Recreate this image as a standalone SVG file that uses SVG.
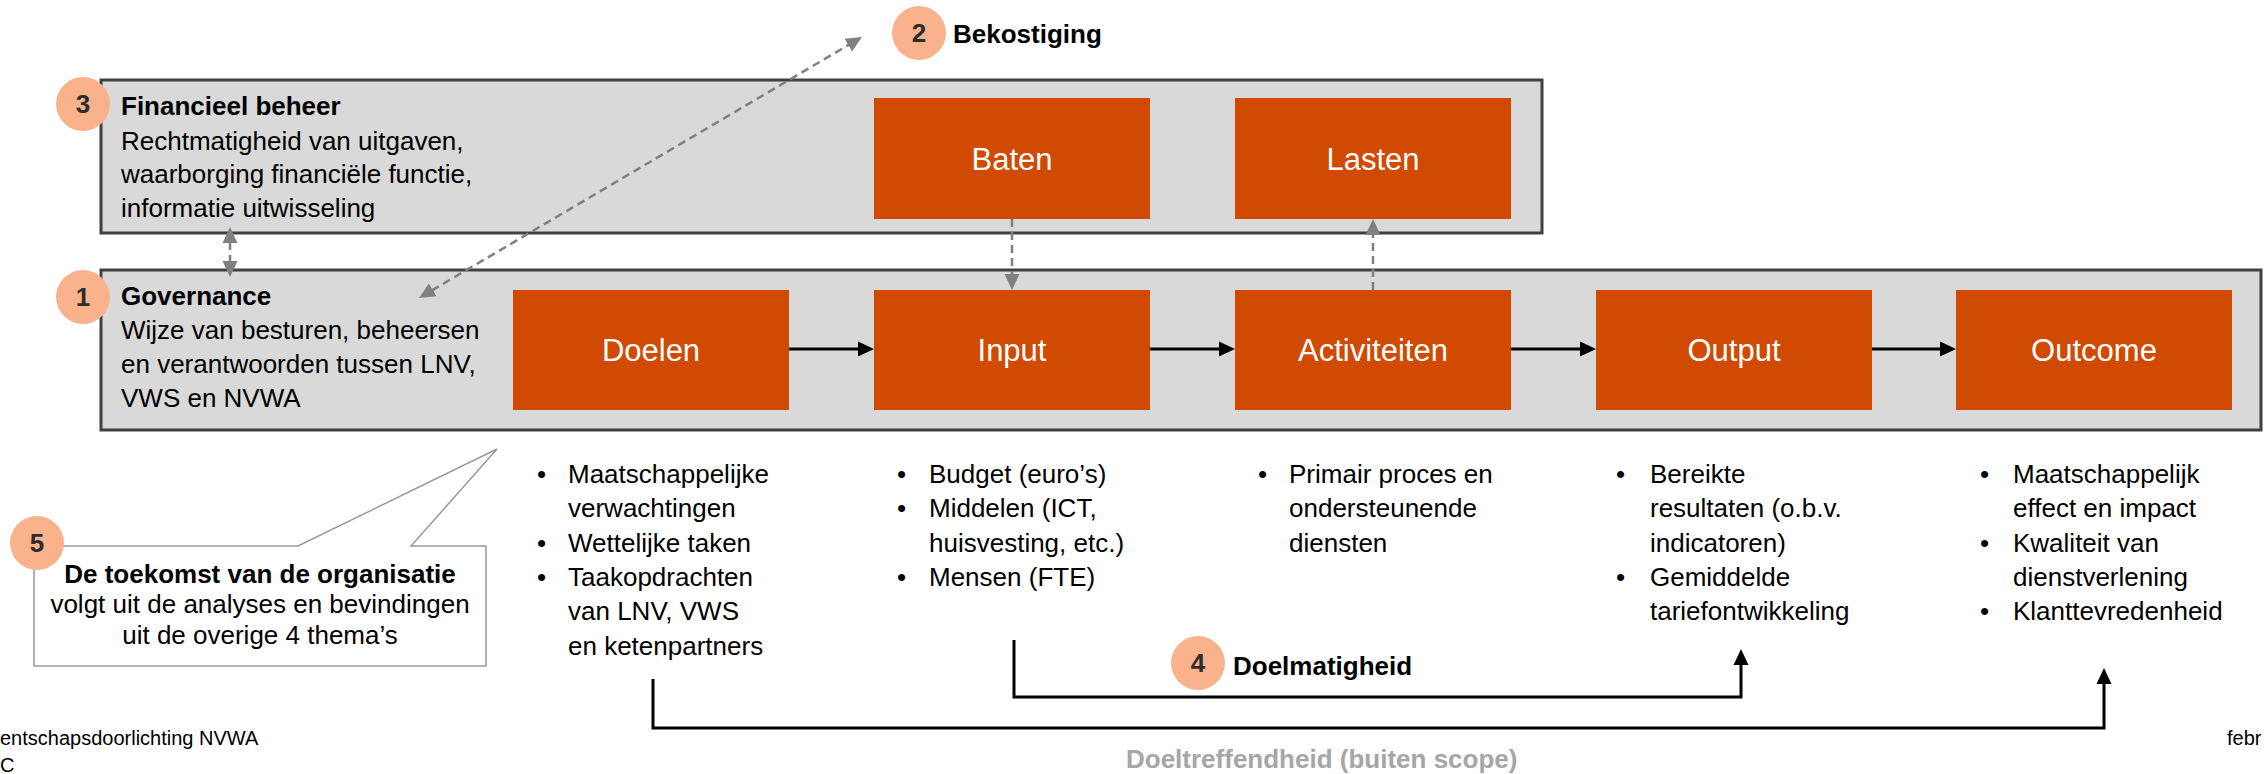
<svg xmlns="http://www.w3.org/2000/svg" width="2264" height="774" viewBox="0 0 2264 774">
<style>
text{font-family:"Liberation Sans",Arial,sans-serif;}
.t{font-size:26px;fill:#000;}
.b{font-size:26px;font-weight:bold;fill:#000;}
.num{font-size:26px;font-weight:bold;fill:#2d2d2d;text-anchor:middle;}
.lbl{font-size:31px;fill:#fff;text-anchor:middle;}
.frame{fill:#d9d9d9;stroke:#404040;stroke-width:3;}
.box{fill:#d04a02;}
.badge{fill:#fab28c;}
.blk{fill:none;stroke:#000;stroke-width:3;}
.gry{fill:none;stroke:#808080;stroke-width:2.5;stroke-dasharray:8 5;}
.foot{font-size:20px;fill:#000;}
</style>
<defs>
<marker id="ab" markerUnits="userSpaceOnUse" markerWidth="16" markerHeight="16" refX="1" refY="8" orient="auto-start-reverse"><path d="M0,0.5 L16,8 L0,15.5 z" fill="#000"/></marker>
<marker id="ag" markerUnits="userSpaceOnUse" markerWidth="16" markerHeight="16" refX="1" refY="8" orient="auto-start-reverse"><path d="M0,0.5 L16,8 L0,15.5 z" fill="#808080"/></marker>
</defs>
<rect width="2264" height="774" fill="#fff"/>

<g id="financieel-beheer">
<rect class="frame" x="101" y="80" width="1441" height="153"/>
<text class="b" x="121" y="115">Financieel beheer</text>
<text class="t" x="121" y="150">Rechtmatigheid van uitgaven,</text>
<text class="t" x="121" y="183">waarborging financiële functie,</text>
<text class="t" x="121" y="217">informatie uitwisseling</text>
<circle class="badge" cx="83" cy="104" r="27"/>
<text class="num" x="83" y="113">3</text>
</g>

<g id="governance">
<rect class="frame" x="101" y="270" width="2160" height="160"/>
<text class="b" x="121" y="305">Governance</text>
<text class="t" x="121" y="339">Wijze van besturen, beheersen</text>
<text class="t" x="121" y="373">en verantwoorden tussen LNV,</text>
<text class="t" x="121" y="407">VWS en NVWA</text>
<circle class="badge" cx="83" cy="297" r="27"/>
<text class="num" x="83" y="306">1</text>
</g>

<g id="bekostiging">
<circle class="badge" cx="919" cy="33" r="27"/>
<text class="num" x="919" y="42">2</text>
<text class="b" x="953" y="43">Bekostiging</text>
</g>

<g id="baten"><rect class="box" x="874" y="98" width="276" height="121"/><text class="lbl" x="1012" y="170">Baten</text></g>
<g id="lasten"><rect class="box" x="1235" y="98" width="276" height="121"/><text class="lbl" x="1373" y="170">Lasten</text></g>

<g id="doelen"><rect class="box" x="513" y="290" width="276" height="120"/><text class="lbl" x="651" y="361">Doelen</text></g>
<g id="input"><rect class="box" x="874" y="290" width="276" height="120"/><text class="lbl" x="1012" y="361">Input</text></g>
<g id="activiteiten"><rect class="box" x="1235" y="290" width="276" height="120"/><text class="lbl" x="1373" y="361">Activiteiten</text></g>
<g id="output"><rect class="box" x="1596" y="290" width="276" height="120"/><text class="lbl" x="1734" y="361">Output</text></g>
<g id="outcome"><rect class="box" x="1956" y="290" width="276" height="120"/><text class="lbl" x="2094" y="361">Outcome</text></g>

<g id="toekomst">
<path d="M34,546 L298,546 L497,449 L411,546 L486,546 L486,666 L34,666 Z" fill="#fff" stroke="#999" stroke-width="1.5"/>
<circle class="badge" cx="37" cy="543" r="27"/>
<text class="num" x="37" y="552">5</text>
<text class="b" x="260" y="583" text-anchor="middle">De toekomst van de organisatie</text>
<text class="t" x="260" y="613" text-anchor="middle">volgt uit de analyses en bevindingen</text>
<text class="t" x="260" y="644" text-anchor="middle">uit de overige 4 thema’s</text>
</g>

<g id="lijst-doelen" class="t">
<text x="537" y="483">•</text><text x="568" y="483">Maatschappelijke</text>
<text x="568" y="517">verwachtingen</text>
<text x="537" y="552">•</text><text x="568" y="552">Wettelijke taken</text>
<text x="537" y="586">•</text><text x="568" y="586">Taakopdrachten</text>
<text x="568" y="620">van LNV, VWS</text>
<text x="568" y="655">en ketenpartners</text>
</g>
<g id="lijst-input" class="t">
<text x="897" y="483">•</text><text x="929" y="483">Budget (euro’s)</text>
<text x="897" y="517">•</text><text x="929" y="517">Middelen (ICT,</text>
<text x="929" y="552">huisvesting, etc.)</text>
<text x="897" y="586">•</text><text x="929" y="586">Mensen (FTE)</text>
</g>
<g id="lijst-activiteiten" class="t">
<text x="1258" y="483">•</text><text x="1289" y="483">Primair proces en</text>
<text x="1289" y="517">ondersteunende</text>
<text x="1289" y="552">diensten</text>
</g>
<g id="lijst-output" class="t">
<text x="1616" y="483">•</text><text x="1650" y="483">Bereikte</text>
<text x="1650" y="517">resultaten (o.b.v.</text>
<text x="1650" y="552">indicatoren)</text>
<text x="1616" y="586">•</text><text x="1650" y="586">Gemiddelde</text>
<text x="1650" y="620">tariefontwikkeling</text>
</g>
<g id="lijst-outcome" class="t">
<text x="1980" y="483">•</text><text x="2013" y="483">Maatschappelijk</text>
<text x="2013" y="517">effect en impact</text>
<text x="1980" y="552">•</text><text x="2013" y="552">Kwaliteit van</text>
<text x="2013" y="586">dienstverlening</text>
<text x="1980" y="620">•</text><text x="2013" y="620">Klanttevredenheid</text>
</g>

<g id="doelmatigheid">
<circle class="badge" cx="1198" cy="663" r="27"/>
<text class="num" x="1198" y="672">4</text>
<text class="b" x="1233" y="675">Doelmatigheid</text>
</g>
<g id="doeltreffendheid">
<text x="1126" y="768" style="font-size:26px;font-weight:bold;fill:#a6a6a6">Doeltreffendheid (buiten scope)</text>
</g>

<g id="connectors">
<path class="blk" d="M789,349 L859,349" marker-end="url(#ab)"/>
<path class="blk" d="M1150,349 L1220,349" marker-end="url(#ab)"/>
<path class="blk" d="M1511,349 L1581,349" marker-end="url(#ab)"/>
<path class="blk" d="M1872,349 L1941,349" marker-end="url(#ab)"/>
<path class="blk" d="M1014,640 L1014,697 L1741,697 L1741,664" marker-end="url(#ab)"/>
<path class="blk" d="M653,679 L653,728 L2104,728 L2104,683" marker-end="url(#ab)"/>
<path class="gry" d="M1012,219 L1012,275" marker-end="url(#ag)"/>
<path class="gry" d="M1373,290 L1373,234" marker-end="url(#ag)"/>
<path class="gry" d="M230,242 L230,262" marker-start="url(#ag)" marker-end="url(#ag)"/>
<path class="gry" d="M431.9,290.4 L849.1,44.6" marker-start="url(#ag)" marker-end="url(#ag)"/>
</g>

<g id="footer">
<text class="foot" x="0" y="745">entschapsdoorlichting NVWA</text>
<text class="foot" x="0" y="772">C</text>
<text class="foot" x="2227" y="745">febr</text>
</g>
</svg>
